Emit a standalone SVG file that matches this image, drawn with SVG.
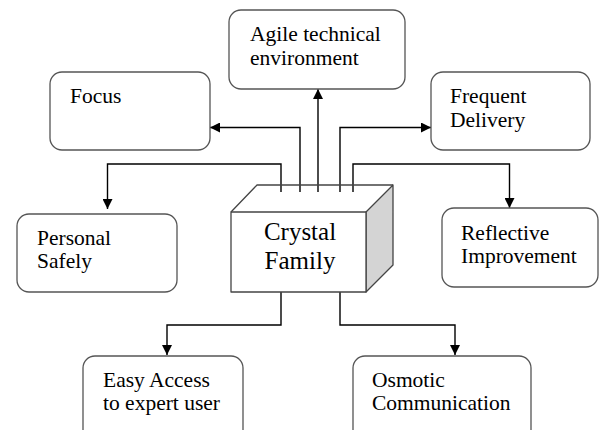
<svg xmlns="http://www.w3.org/2000/svg" width="601" height="430" viewBox="0 0 601 430">
  <style>
    .box { fill: #ffffff; stroke: #555555; stroke-width: 1.3; }
    .lbl { font-family: 'Liberation Serif', 'DejaVu Serif', serif; font-size: 21.5px; fill: #000000; }
    .big { font-family: 'Liberation Serif', 'DejaVu Serif', serif; font-size: 25px; fill: #000000; text-anchor: middle; }
    .wire { fill: none; stroke: #000000; stroke-width: 1.4; }
    .cube { stroke: #444444; stroke-width: 1.3; stroke-linejoin: round; }
  </style>
  <defs>
    <marker id="arrow" viewBox="0 0 10 10" refX="10" refY="5" markerWidth="10" markerHeight="10" markerUnits="userSpaceOnUse" orient="auto">
      <path d="M0,0 L10,5 L0,10 Z" fill="#000000"/>
    </marker>
  </defs>
  <rect width="601" height="430" fill="#ffffff"/>

  <g id="connectors">
    <path class="wire" d="M318,192 V89" marker-end="url(#arrow)"/>
    <path class="wire" d="M300,192 V127.5 H210" marker-end="url(#arrow)"/>
    <path class="wire" d="M281,192 V164 H107.5 V209" marker-end="url(#arrow)"/>
    <path class="wire" d="M340,192 V127.5 H431" marker-end="url(#arrow)"/>
    <path class="wire" d="M353,192 V164 H509.5 V208" marker-end="url(#arrow)"/>
    <path class="wire" d="M281,292 V325 H167 V355" marker-end="url(#arrow)"/>
    <path class="wire" d="M340,292 V325 H455 V355" marker-end="url(#arrow)"/>
  </g>

  <g id="crystal-family">
    <polygon class="cube" points="366,212 393,185 393,265 366,292" fill="#d4d4d4"/>
    <rect class="cube" x="231" y="212" width="135" height="80" fill="#ffffff"/>
    <path class="cube" d="M231,212 L257,185 H393" fill="none"/>
    <text class="big" x="300" y="240">Crystal</text>
    <text class="big" x="300" y="269">Family</text>
  </g>

  <g id="agile">
    <rect class="box" x="229" y="10" width="176" height="79" rx="12"/>
    <text class="lbl" x="250" y="41">Agile technical</text>
    <text class="lbl" x="250" y="65">environment</text>
  </g>

  <g id="focus">
    <rect class="box" x="50" y="72" width="160" height="78" rx="12"/>
    <text class="lbl" x="70" y="103">Focus</text>
  </g>

  <g id="frequent">
    <rect class="box" x="431" y="72" width="159" height="78" rx="12"/>
    <text class="lbl" x="450" y="103">Frequent</text>
    <text class="lbl" x="450" y="127">Delivery</text>
  </g>

  <g id="personal">
    <rect class="box" x="17" y="214" width="160" height="78" rx="12"/>
    <text class="lbl" x="37" y="245">Personal</text>
    <text class="lbl" x="37" y="268">Safely</text>
  </g>

  <g id="reflective">
    <rect class="box" x="442" y="208" width="156" height="79" rx="12"/>
    <text class="lbl" x="461" y="240">Reflective</text>
    <text class="lbl" x="461" y="263">Improvement</text>
  </g>

  <g id="easy-access">
    <rect class="box" x="83" y="356" width="160" height="90" rx="12"/>
    <text class="lbl" x="103" y="387">Easy Access</text>
    <text class="lbl" x="103" y="410">to expert user</text>
  </g>

  <g id="osmotic">
    <rect class="box" x="353" y="356" width="178" height="90" rx="12"/>
    <text class="lbl" x="372" y="387">Osmotic</text>
    <text class="lbl" x="372" y="410">Communication</text>
  </g>
</svg>
